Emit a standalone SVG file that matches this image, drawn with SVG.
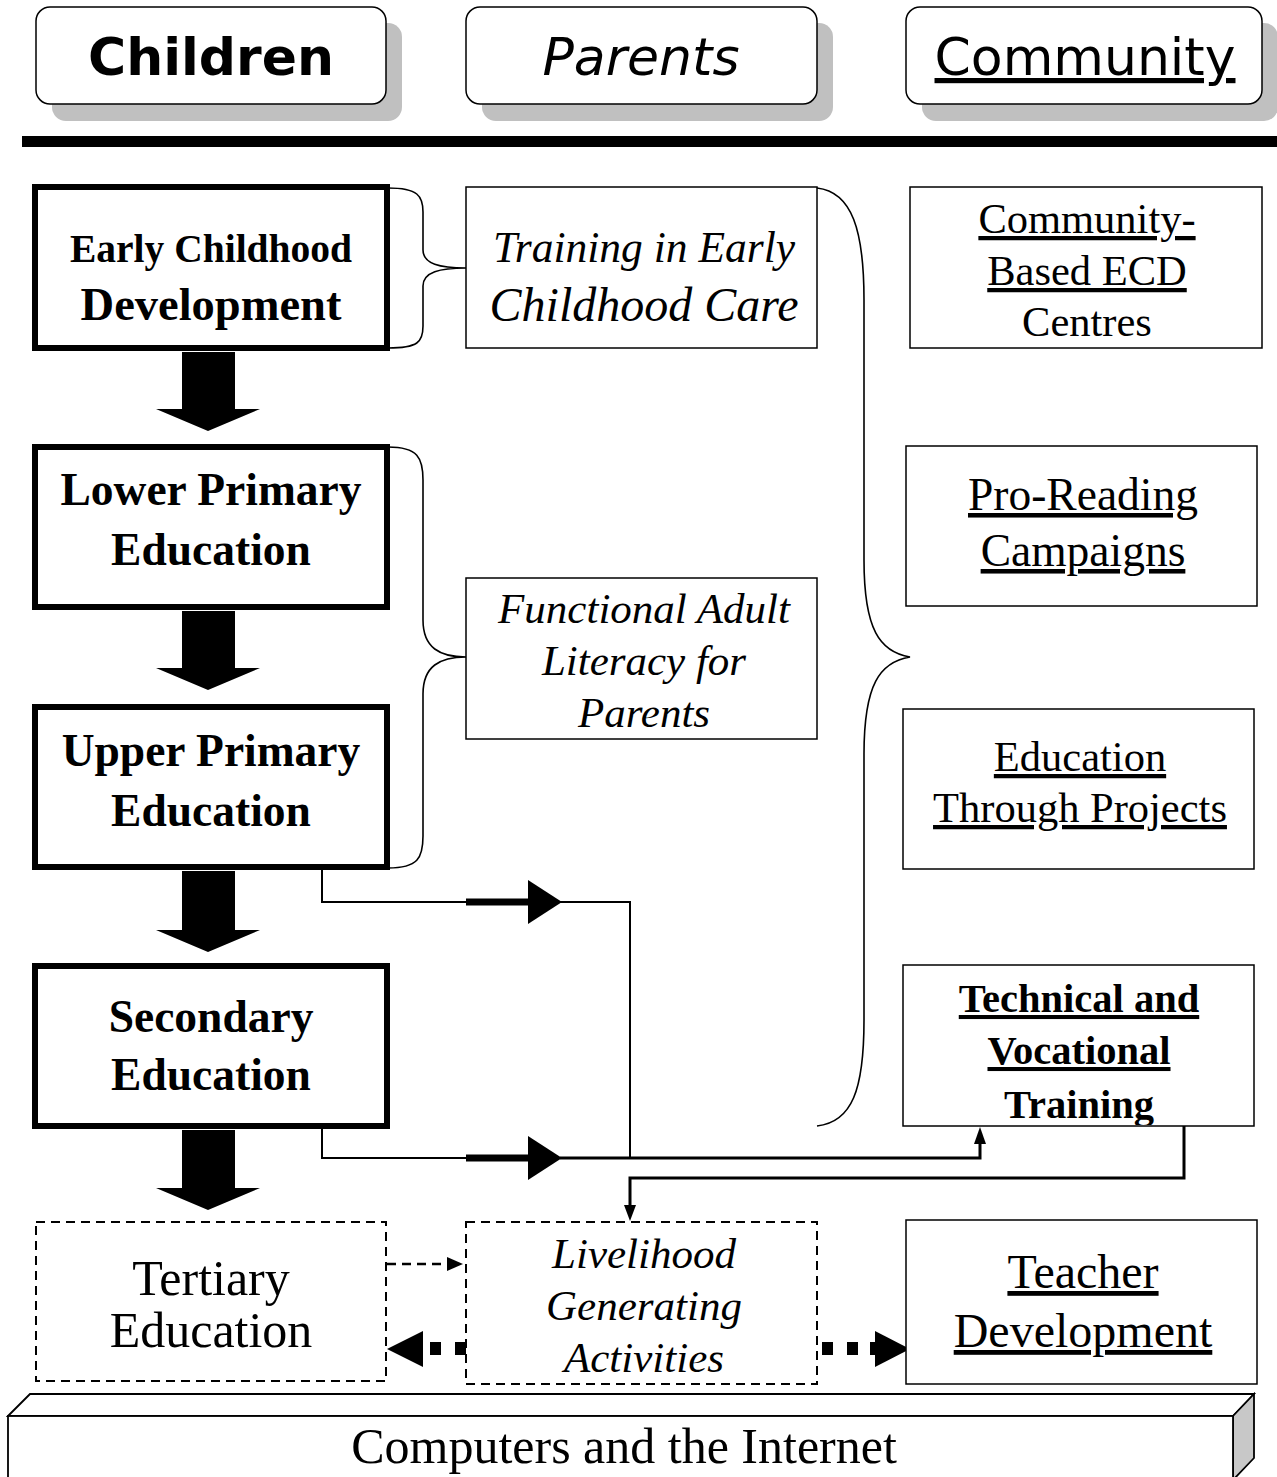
<svg xmlns="http://www.w3.org/2000/svg" width="1277" height="1477" viewBox="0 0 1277 1477">
<style>
.hdr{fill:#fff;stroke:#000;stroke-width:1.5}
.shadow{fill:#c0c0c0}
.thick{fill:#fff;stroke:#000;stroke-width:6}
.thin{fill:#fff;stroke:#000;stroke-width:1.5}
.dash{fill:#fff;stroke:#000;stroke-width:2;stroke-dasharray:9,6}
.brace{fill:none;stroke:#000;stroke-width:1.6}
.ln{fill:none;stroke:#000;stroke-width:2}
.ln3{fill:none;stroke:#000;stroke-width:3}
.s{font-family:"Liberation Serif","Times New Roman",serif;text-anchor:middle;fill:#000}
.h{font-family:"DejaVu Sans",Verdana,sans-serif;text-anchor:middle;fill:#000;font-size:52px}
.b{font-weight:bold}
.i{font-style:italic}
.u{text-decoration:underline}
</style>
<defs>
<clipPath id="tvtclip"><rect x="904" y="966" width="349" height="159"/></clipPath>
</defs>

<g id="hdr-children">
<rect class="shadow" x="52" y="23" width="350" height="98" rx="14"/>
<rect class="hdr" x="36" y="7" width="350" height="97" rx="14"/>
<text class="h b" x="211" y="75">Children</text>
</g>
<g id="hdr-parents">
<rect class="shadow" x="482" y="23" width="351" height="98" rx="14"/>
<rect class="hdr" x="466" y="7" width="351" height="97" rx="14"/>
<text class="h i" x="641" y="75">Parents</text>
</g>
<g id="hdr-community">
<rect class="shadow" x="922" y="23" width="356" height="98" rx="14"/>
<rect class="hdr" x="906" y="7" width="356" height="97" rx="14"/>
<text class="h u" x="1085" y="75" font-size="53">Community</text>
</g>
<rect id="divider" x="22" y="136" width="1255" height="11" fill="#000"/>

<g id="connectors">
<path class="brace" d="M388,188 C418,188 423,196 423,212 L423,250 C423,264 440,268 466,268 C440,268 423,272 423,286 L423,326 C423,342 418,348 388,348"/>
<path class="brace" d="M388,447 C418,447 423,458 423,480 L423,620 C423,648 440,657 466,657 C440,657 423,666 423,694 L423,836 C423,858 418,868 388,868"/>
<path class="brace" d="M817,188 C852,192 864,230 864,300 L864,560 C864,630 880,652 910,657 C880,662 864,684 864,754 L864,1020 C864,1090 852,1122 817,1126"/>
<polygon points="182,352 235,352 235,409 260,409 208,431 156,409 182,409" fill="#000"/>
<polygon points="182,611 235,611 235,668 260,668 208,690 156,668 182,668" fill="#000"/>
<polygon points="182,871 235,871 235,930 260,930 208,952 156,930 182,930" fill="#000"/>
<polygon points="182,1130 235,1130 235,1188 260,1188 208,1210 156,1188 182,1188" fill="#000"/>
<path class="ln" d="M322,870 L322,902 L466,902"/>
<line x1="466" y1="902" x2="532" y2="902" stroke="#000" stroke-width="7"/>
<polygon points="528,880 562,902 528,924" fill="#000"/>
<path class="ln" d="M560,902 L630,902 L630,1158"/>
<path class="ln" d="M322,1129 L322,1158 L466,1158"/>
<line x1="466" y1="1158" x2="532" y2="1158" stroke="#000" stroke-width="7"/>
<polygon points="528,1136 562,1158 528,1180" fill="#000"/>
<path class="ln3" d="M560,1158 L980,1158 L980,1142"/>
<polygon points="974,1144 986,1144 980,1127" fill="#000"/>
<path class="ln3" d="M1184,1126 L1184,1178 L630,1178 L630,1206"/>
<polygon points="624,1205 636,1205 630,1221" fill="#000"/>
<line x1="387" y1="1264" x2="448" y2="1264" stroke="#000" stroke-width="2.5" stroke-dasharray="9,6"/>
<polygon points="447,1257 463,1264 447,1271" fill="#000"/>
<rect x="430" y="1342" width="11" height="13" fill="#000"/>
<rect x="455" y="1342" width="11" height="13" fill="#000"/>
<polygon points="423,1331 423,1367 387,1349" fill="#000"/>
<rect x="822" y="1342" width="11" height="13" fill="#000"/>
<rect x="847" y="1342" width="11" height="13" fill="#000"/>
<rect x="870" y="1342" width="8" height="13" fill="#000"/>
<polygon points="875,1331 875,1367 910,1349" fill="#000"/>
</g>

<g id="ecd">
<rect class="thick" x="35" y="187" width="352" height="161"/>
<text class="s b" x="211" y="262" font-size="39.5">Early Childhood</text>
<text class="s b" x="211" y="320" font-size="46.5">Development</text>
</g>
<g id="lower-primary">
<rect class="thick" x="35" y="447" width="352" height="160"/>
<text class="s b" x="211" y="505" font-size="45.5">Lower Primary</text>
<text class="s b" x="211" y="565" font-size="45.5">Education</text>
</g>
<g id="upper-primary">
<rect class="thick" x="35" y="707" width="352" height="160"/>
<text class="s b" x="211" y="766" font-size="45.5">Upper Primary</text>
<text class="s b" x="211" y="826" font-size="45.5">Education</text>
</g>
<g id="secondary">
<rect class="thick" x="35" y="966" width="352" height="160"/>
<text class="s b" x="211" y="1032" font-size="45.5">Secondary</text>
<text class="s b" x="211" y="1090" font-size="45.5">Education</text>
</g>
<g id="tertiary">
<rect class="dash" x="36" y="1222" width="350" height="159"/>
<text class="s" x="211" y="1295" font-size="50">Tertiary</text>
<text class="s" x="211" y="1347" font-size="50">Education</text>
</g>

<g id="training-ecc">
<rect class="thin" x="466" y="187" width="351" height="161"/>
<text class="s i" x="644" y="262" font-size="43.5">Training in Early</text>
<text class="s i" x="644" y="321" font-size="48">Childhood Care</text>
</g>
<g id="adult-literacy">
<rect class="thin" x="466" y="578" width="351" height="161"/>
<text class="s i" x="644" y="623" font-size="43">Functional Adult</text>
<text class="s i" x="644" y="675" font-size="43">Literacy for</text>
<text class="s i" x="644" y="727" font-size="43">Parents</text>
</g>
<g id="livelihood">
<rect class="dash" x="466" y="1222" width="351" height="162"/>
<text class="s i" x="644" y="1268" font-size="43">Livelihood</text>
<text class="s i" x="644" y="1320" font-size="43">Generating</text>
<text class="s i" x="644" y="1372" font-size="43">Activities</text>
</g>

<g id="cbecd">
<rect class="thin" x="910" y="187" width="352" height="161"/>
<text class="s u" x="1087" y="233" font-size="42.5">Community-</text>
<text class="s u" x="1087" y="285" font-size="42.5">Based ECD</text>
<text class="s" x="1087" y="336" font-size="42.5">Centres</text>
</g>
<g id="pro-reading">
<rect class="thin" x="906" y="446" width="351" height="160"/>
<text class="s u" x="1083" y="510" font-size="45.5">Pro-Reading</text>
<text class="s u" x="1083" y="566" font-size="45.5">Campaigns</text>
</g>
<g id="projects">
<rect class="thin" x="903" y="709" width="351" height="160"/>
<text class="s u" x="1080" y="771" font-size="42.5">Education</text>
<text class="s u" x="1080" y="822" font-size="42.5">Through Projects</text>
</g>
<g id="tvt">
<rect class="thin" x="903" y="965" width="351" height="161"/>
<g clip-path="url(#tvtclip)">
<text class="s b u" x="1079" y="1012" font-size="40.5">Technical and</text>
<text class="s b u" x="1079" y="1064" font-size="40.5">Vocational</text>
<text class="s b" x="1079" y="1118" font-size="40.5">Training</text>
</g>
</g>
<g id="teacher">
<rect class="thin" x="906" y="1220" width="351" height="164"/>
<text class="s u" x="1083" y="1288" font-size="48">Teacher</text>
<text class="s u" x="1083" y="1347" font-size="48">Development</text>
</g>

<g id="computers">
<polygon points="8,1416 30,1394 1254,1394 1233,1416" fill="#fff" stroke="#000" stroke-width="1.8"/>
<polygon points="1233,1416 1254,1394 1254,1458 1233,1480" fill="#c8c8c8" stroke="#000" stroke-width="1.8"/>
<rect x="8" y="1416" width="1225" height="70" fill="#fff" stroke="#000" stroke-width="1.8"/>
<text class="s" x="624" y="1463" font-size="50">Computers and the Internet</text>
</g>
</svg>
